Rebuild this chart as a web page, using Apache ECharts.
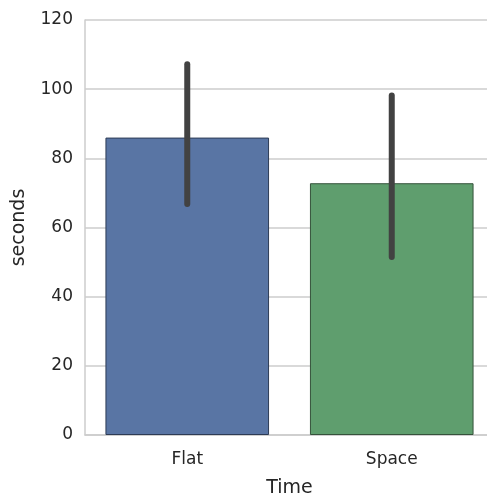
<!DOCTYPE html>
<html>
<head>
<meta charset="utf-8">
<script src="https://cdn.jsdelivr.net/npm/echarts@6/dist/echarts.min.js"></script>
<style>
  html, body { margin: 0; padding: 0; background: #fff; overflow: hidden; }
  #chart { width: 487px; height: 497px; }
</style>
</head>
<body>
<div id="chart"></div>
<script>
// Mean time per condition, with 95% confidence interval bounds
const categories = ['Flat', 'Space'];
const means = [86.0, 72.8];
const ciLow = [66.8, 51.5];
const ciHigh = [107.2, 98.2];
const barColors = ['#5975a4', '#5f9e6e'];
const barEdges = ['#2d3b55', '#35523b'];
const yTicks = [0, 20, 40, 60, 80, 100, 120];

const textColor = '#262626';
const font = 'DejaVu Sans';

const chart = echarts.init(document.getElementById('chart'), null, { renderer: 'canvas' });

chart.setOption({
  animation: false,
  backgroundColor: '#ffffff',
  // the plot area runs slightly past the right edge of the canvas
  grid: {
    left: 85, top: 20, width: 409, height: 415,
    containLabel: false,
    outerBoundsMode: 'none'
  },
  xAxis: {
    type: 'category',
    data: categories,
    name: 'Time',
    nameLocation: 'middle',
    nameGap: 44,
    nameTextStyle: { fontFamily: font, fontSize: 19, color: textColor },
    axisLine: { show: true, lineStyle: { color: '#cccccc', width: 1.5 } },
    axisTick: { show: false },
    axisLabel: { fontFamily: font, fontSize: 17, color: textColor, margin: 16 },
    splitLine: { show: false }
  },
  yAxis: {
    type: 'value',
    min: yTicks[0],
    max: yTicks[yTicks.length - 1],
    interval: 20,
    name: 'seconds',
    nameLocation: 'middle',
    nameGap: 56,
    nameTextStyle: { fontFamily: font, fontSize: 19, color: textColor },
    axisLine: { show: true, lineStyle: { color: '#cccccc', width: 1.5 } },
    axisTick: { show: false },
    axisLabel: { fontFamily: font, fontSize: 17, color: textColor, margin: 12 },
    splitLine: { show: true, lineStyle: { color: '#cccccc', width: 1.5 } }
  },
  series: [
    {
      type: 'bar',
      barWidth: '80%',
      data: means.map((v, i) => ({
        value: v,
        itemStyle: { color: barColors[i], borderColor: barEdges[i], borderWidth: 1 }
      })),
      z: 2
    },
    {
      type: 'custom',
      data: categories.map((c, i) => [i, ciLow[i], ciHigh[i]]),
      renderItem: function (params, api) {
        const lo = api.coord([api.value(0), api.value(1)]);
        const hi = api.coord([api.value(0), api.value(2)]);
        return {
          type: 'line',
          shape: { x1: lo[0], y1: lo[1], x2: hi[0], y2: hi[1] },
          style: { stroke: '#424242', lineWidth: 6, lineCap: 'round' }
        };
      },
      z: 3
    }
  ]
});
</script>
</body>
</html>
